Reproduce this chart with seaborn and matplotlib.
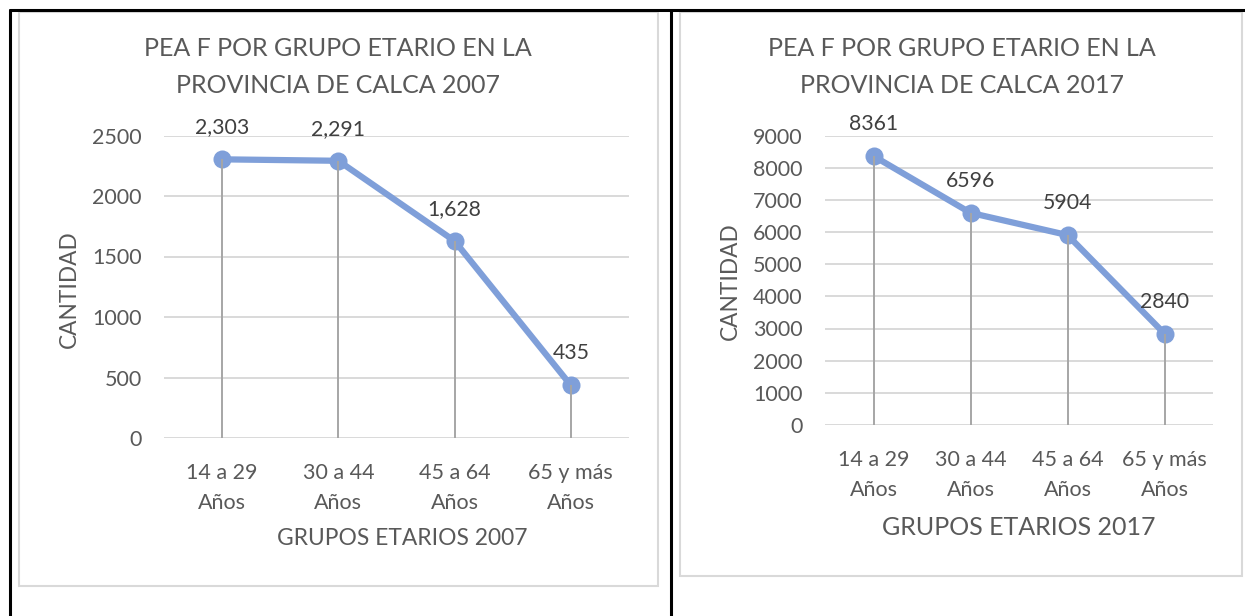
import numpy as np
import pandas as pd
import seaborn as sns
import matplotlib.pyplot as plt
from matplotlib.patches import Rectangle
from matplotlib.lines import Line2D

# Data
grupos = ["14 a 29\nAños", "30 a 44\nAños", "45 a 64\nAños", "65 y más\nAños"]
pea_2007 = [2303, 2291, 1628, 435]
pea_2017 = [8361, 6596, 5904, 2840]
titulos = ["PEA F POR GRUPO ETARIO EN LA\nPROVINCIA DE CALCA 2007",
           "PEA F POR GRUPO ETARIO EN LA\nPROVINCIA DE CALCA 2017"]
ejes_x = ["GRUPOS ETARIOS 2007", "GRUPOS ETARIOS 2017"]

W, H = 1245, 616
BLUE = "#7f9fd9"
GRAY_TXT = "#595959"

sns.set_theme(style="white")
plt.rcParams['font.family'] = ['Lato', 'DejaVu Sans']

fig = plt.figure(figsize=(W / 100, H / 100), dpi=100)


def box(x0, y0, x1, y1):
    return [x0 / W, 1 - y1 / H, (x1 - x0) / W, (y1 - y0) / H]


# table borders (black) and chart frames (light gray)
for xs, ys in [((9.5, 1245), (9.5, 9.5)), ((9.5, 9.5), (9.5, 616)), ((671, 671), (9.5, 616))]:
    fig.add_artist(Line2D([x / W for x in xs], [1 - y / H for y in ys], color="black", lw=2.2))
for x0, y0, x1, y1 in [(19, 12, 658, 586), (680, 12, 1242, 576)]:
    fig.add_artist(Rectangle((x0 / W, 1 - y1 / H), (x1 - x0) / W, (y1 - y0) / H,
                             fill=False, ec="#d9d9d9", lw=1.5))


def draw_panel(rect, values, ymax, ystep, fmt, titulo, title_xy, xlabel, xlabel_size,
               ylabel_coords, xlabel_coords):
    ax = fig.add_axes(box(*rect))
    df = pd.DataFrame({"grupo": grupos, "valor": values})
    sns.lineplot(data=df, x="grupo", y="valor", sort=False, ax=ax, color=BLUE, lw=4.5,
                 marker="o", markersize=13, markeredgewidth=0, zorder=3)
    ax.vlines(range(len(grupos)), 0, values, color="#a6a6a6", lw=1.4, zorder=4)
    for i, v in enumerate(values):
        ax.annotate(fmt(v), (i, v), xytext=(0, 32), textcoords="offset pixels",
                    ha="center", va="center", fontsize=15.3, color="#404040")
    ax.set_xlim(-0.5, len(grupos) - 0.5)
    ax.set_ylim(0, ymax)
    ax.set_yticks(np.arange(0, ymax + 1, ystep))
    ax.yaxis.grid(True, color="#d9d9d9", lw=1.4)
    ax.set_axisbelow(True)
    sns.despine(ax=ax, left=True, bottom=True)
    ax.tick_params(axis="y", length=0, pad=16, labelsize=15.5, labelcolor=GRAY_TXT)
    ax.tick_params(axis="x", length=0, pad=18, labelsize=15.5, labelcolor=GRAY_TXT)
    for lab in ax.get_xticklabels():
        lab.set_linespacing(1.6)
    ax.set_ylabel("CANTIDAD", fontsize=16.3, color=GRAY_TXT, va="center")
    ax.yaxis.set_label_coords(*ylabel_coords)
    ax.set_xlabel(xlabel, fontsize=xlabel_size, color=GRAY_TXT, va="center")
    ax.xaxis.set_label_coords(*xlabel_coords)
    fig.text(title_xy[0] / W, 1 - title_xy[1] / H, titulo, ha="center", va="center",
             fontsize=18, color=GRAY_TXT, linespacing=1.72)
    return ax


draw_panel((164, 135.5, 629, 438), pea_2007, 2500, 500, lambda v: f"{v:,}", titulos[0],
           (338, 67), ejes_x[0], 16.4, (-0.204, 0.4926), (0.512, -0.3306))
draw_panel((825, 135.5, 1213, 425), pea_2017, 9000, 1000, lambda v: f"{v}", titulos[1],
           (961.5, 67), ejes_x[1], 18, (-0.2436, 0.497), (0.5, -0.355))

fig.savefig("out.png", dpi=100, facecolor="white")
